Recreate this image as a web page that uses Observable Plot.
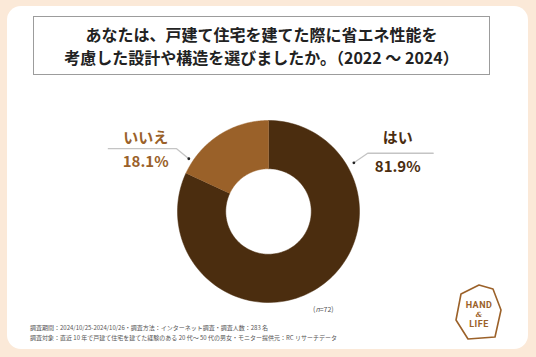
<!DOCTYPE html>
<html><head><meta charset="utf-8">
<script src="https://cdn.jsdelivr.net/npm/d3@7"></script>
<script src="https://cdn.jsdelivr.net/npm/@observablehq/plot@0.6"></script>
<style>
html,body{margin:0;padding:0;}
body{width:536px;height:357px;background:#fbe9d8;position:relative;overflow:hidden;font-family:"Noto Sans CJK JP","Noto Sans",sans-serif;}
#card{position:absolute;left:7px;top:6px;width:521px;height:343px;background:#fff;border-radius:14px;}
#title{position:absolute;left:33px;top:16px;width:455px;height:57px;border:1px solid #9c9c9c;display:flex;align-items:center;justify-content:center;text-align:center;font-weight:bold;font-size:16px;line-height:23px;color:#222;}
#chart{position:absolute;left:0;top:0;}
.foot{position:absolute;left:30px;font-size:6px;color:#555;white-space:nowrap;}
#n{position:absolute;left:313px;top:304px;font-size:7px;color:#555;}
#logo{position:absolute;left:450px;top:282px;}
</style></head>
<body>
<div id="card"></div>
<div id="title"><div>あなたは、戸建て住宅を建てた際に省エネ性能を<br>考慮した設計や構造を選びましたか。（2022 〜 2024）</div></div>
<div id="chart"></div>
<div id="n">(<i>n</i>=72)</div>
<div class="foot" style="top:323px">調査期間：2024/10/25-2024/10/26・調査方法：インターネット調査・調査人数：283 名</div>
<div class="foot" style="top:333px">調査対象：直近 10 年で戸建て住宅を建てた経験のある 20 代〜 50 代の男女・モニター提供元：RC リサーチデータ</div>
<svg id="logo" width="60" height="64" viewBox="0 0 60 64">
  <polygon points="29,3 43,7 51,28 45,55 18,57 6,38 11,12" fill="none" stroke="#9b6129" stroke-width="1.6" stroke-linejoin="round"/>
  <text x="29" y="26" text-anchor="middle" font-family="Roboto,'DejaVu Sans',sans-serif" font-weight="bold" font-size="9" fill="#9b6129" letter-spacing="0.5">HAND</text>
  <text x="29" y="35" text-anchor="middle" font-family="'DejaVu Serif',serif" font-style="italic" font-weight="bold" font-size="7" fill="#9b6129">&amp;</text>
  <text x="29" y="45" text-anchor="middle" font-family="Roboto,'DejaVu Sans',sans-serif" font-weight="bold" font-size="9" fill="#9b6129" letter-spacing="0.5">LIFE</text>
</svg>
<script>
// ---- data ----
const categories = ["はい", "いいえ"];
const percents = [81.9, 18.1];
const valueLabels = ["81.9%", "18.1%"];
const colors = ["#4b2d0f", "#9a6129"];

// ---- geometry derived from data (clockwise from 12 o'clock) ----
const inner = 0.47;
const total = d3.sum(percents);
let acc = 0;
const slices = categories.map((c, i) => {
  const a0 = acc / total * 2 * Math.PI;
  acc += percents[i];
  const a1 = acc / total * 2 * Math.PI;
  return {cat: c, a0, a1};
});
const pts = [];
for (const s of slices) {
  const n = 120;
  for (let k = 0; k <= n; k++) {
    const a = s.a0 + (s.a1 - s.a0) * k / n;
    pts.push({cat: s.cat, x: Math.sin(a), y: Math.cos(a)});
  }
  for (let k = n; k >= 0; k--) {
    const a = s.a0 + (s.a1 - s.a0) * k / n;
    pts.push({cat: s.cat, x: inner * Math.sin(a), y: inner * Math.cos(a)});
  }
}

// label layout (styling, in donut-radius units)
const layout = {
  "はい":   {dotA: 60.3, dotR: 1.08, elbowX: 1.09, lineY: 0.64, endX: 1.81, textX: 1.42, catY: 0.81, valY: 0.49},
  "いいえ": {dotA: -56.5, dotR: 1.05, elbowX: -1.01, lineY: 0.69, endX: -1.76, textX: -1.35, catY: 0.81, valY: 0.54}
};
const leaders = [], dots = [], texts = [];
categories.forEach((c, i) => {
  const L = layout[c];
  const ra = L.dotA * Math.PI / 180;
  const dx = L.dotR * Math.sin(ra), dy = L.dotR * Math.cos(ra);
  dots.push({x: dx, y: dy});
  leaders.push({cat: c, x: dx, y: dy}, {cat: c, x: L.elbowX, y: L.lineY}, {cat: c, x: L.endX, y: L.lineY});
  texts.push({x: L.textX, y: L.catY, t: c, col: colors[i], fs: 15});
  texts.push({x: L.textX, y: L.valY, t: valueLabels[i], col: colors[i], fs: 15});
});

const chart = Plot.plot({
  width: 536, height: 357,
  marginLeft: 177, marginRight: 177, marginTop: 120, marginBottom: 55,
  x: {domain: [-1, 1], axis: null},
  y: {domain: [-1, 1], axis: null},
  color: {domain: categories, range: colors},
  style: {background: "transparent", overflow: "visible"},
  marks: [
    Plot.line(pts, {x: "x", y: "y", z: "cat", fill: "cat", stroke: "cat", strokeWidth: 0.5}),
    Plot.line(leaders, {x: "x", y: "y", z: "cat", stroke: "#c4c4c4", strokeWidth: 1.3}),
    Plot.dot(dots, {x: "x", y: "y", r: 1.4, fill: "#222"}),
    Plot.text(texts, {x: "x", y: "y", text: "t", fill: "col", fontSize: "fs", fontWeight: "bold",
      fontFamily: "'Noto Sans CJK JP', sans-serif"})
  ]
});
document.getElementById("chart").appendChild(chart);
</script>
</body></html>
